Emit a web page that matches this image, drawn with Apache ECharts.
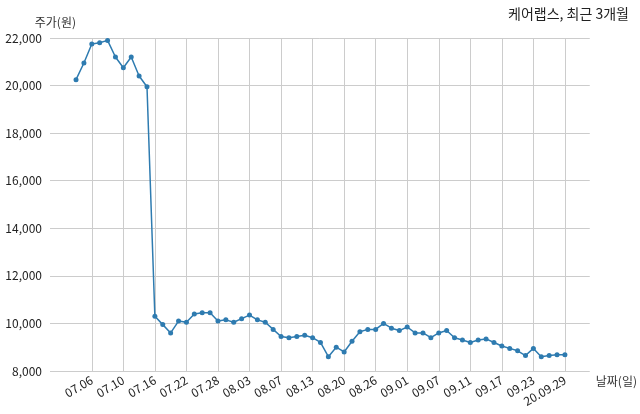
<!DOCTYPE html><html><head><meta charset="utf-8"><script src="https://cdn.jsdelivr.net/npm/echarts@6/dist/echarts.min.js"></script></head><body style="margin:0"><div id="c" style="width:640px;height:414px"></div><script>
const tickLabels=['07.06','07.10','07.16','07.22','07.28','08.03','08.07','08.13','08.20','08.26','09.01','09.07','09.11','09.17','09.23','20.09.29'];
const prices=[20250,20950,21750,21800,21900,21200,20750,21200,20400,19950,10300,9950,9600,10100,10050,10400,10450,10450,10100,10150,10050,10200,10350,10150,10050,9750,9450,9400,9450,9500,9400,9200,8600,9000,8800,9250,9650,9750,9750,10000,9800,9700,9850,9600,9600,9400,9600,9700,9400,9300,9200,9300,9350,9200,9050,8950,8850,8650,8950,8600,8650,8680,8680];
const tickIdx=tickLabels.map((_,i)=>2+4*i);
const F='"Noto Sans CJK KR","Noto Sans",sans-serif';
const ch=echarts.init(document.getElementById('c'));
ch.setOption({
title:{text:'케어랩스, 최근 3개월',right:6,top:2,textStyle:{fontFamily:F,fontSize:14,fontWeight:'normal',color:'#222'}},
grid:{left:50,right:48,top:38,bottom:43},
xAxis:{type:'value',min:-3.3,max:65.15,name:'날짜(일)',nameLocation:'end',nameGap:6,nameTextStyle:{fontFamily:F,fontSize:12,color:'#333',verticalAlign:'top',padding:[4,0,0,0]},
 axisLine:{show:false},axisTick:{show:false,customValues:tickIdx},
 axisLabel:{customValues:tickIdx,rotate:30,fontFamily:F,fontSize:12,color:'#222',formatter:v=>tickLabels[(v-2)/4]},
 splitLine:{show:true,lineStyle:{color:'#ccc'}}},
yAxis:{type:'value',min:8000,max:22000,interval:2000,name:'주가(원)',nameGap:10,nameTextStyle:{fontFamily:F,fontSize:12,color:'#333',align:'right'},
 axisLine:{show:false},axisTick:{show:false},axisLabel:{fontFamily:F,fontSize:12,color:'#222',formatter:v=>v.toLocaleString('en-US')},
 splitLine:{lineStyle:{color:'#ccc'}}},
series:[{type:'line',data:prices.map((p,i)=>[i,p]),symbol:'circle',symbolSize:5,lineStyle:{color:'#2e7bb0',width:1.5},itemStyle:{color:'#2e7bb0'},animation:false}]
});
</script></body></html>
